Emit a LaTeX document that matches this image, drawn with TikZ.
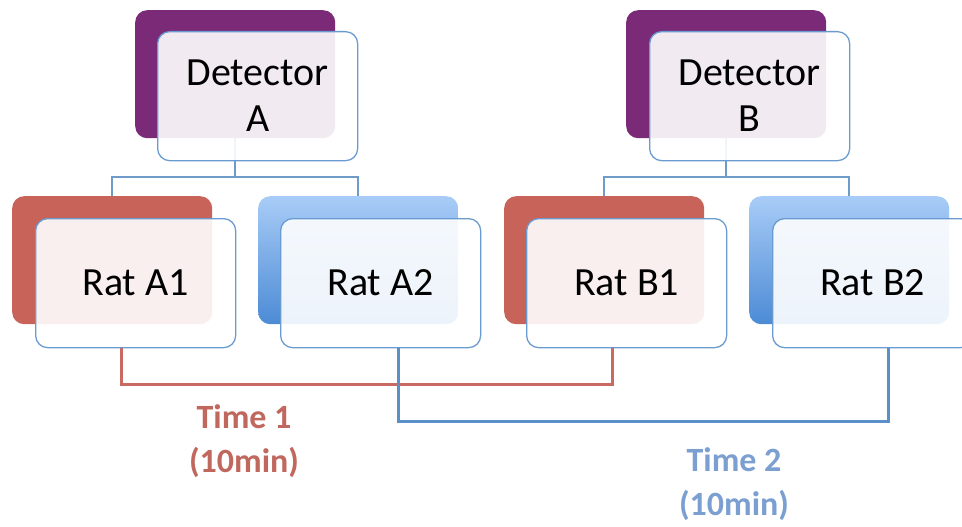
\documentclass[tikz,border=0pt]{standalone}
\usepackage{fontspec}
\setmainfont{Carlito}
\usetikzlibrary{calc}
\definecolor{purpleback}{HTML}{7B2A78}
\definecolor{redback}{HTML}{C8635A}
\definecolor{bluetop}{HTML}{A8CCF7}
\definecolor{bluebot}{HTML}{4C8BD5}
\definecolor{frontborder}{HTML}{6A9BD0}
\definecolor{treeline}{HTML}{6F9BCB}
\definecolor{redline}{HTML}{C96A62}
\definecolor{blueline}{HTML}{5A8FC8}
\definecolor{redtext}{HTML}{C0675E}
\definecolor{bluetext}{HTML}{7A9FD0}
\begin{document}
\begin{tikzpicture}[x=1pt,y=-1pt,
  backbox/.style={rectangle, rounded corners=12pt, minimum width=200pt, minimum height=128pt, inner sep=0pt, anchor=north west, draw=none},
  purplebox/.style={backbox, fill=purpleback},
  redbox/.style={backbox, fill=redback},
  bluebox/.style={backbox, top color=bluetop, bottom color=bluebot},
  frontbox/.style={rectangle, rounded corners=12pt, draw=frontborder, line width=1.3pt, fill=white, fill opacity=0.9, draw opacity=1, text opacity=1, minimum width=200pt, minimum height=129pt, inner sep=0pt, anchor=north west, align=center, font=\fontsize{40}{46}\selectfont},
  tree/.style={draw=treeline, line width=2pt},
  redbracket/.style={draw=redline, line width=2.5pt},
  bluebracket/.style={draw=blueline, line width=2.5pt},
  timelabel/.style={align=center, font=\bfseries\fontsize{34}{44}\selectfont}
]
\useasboundingbox (0,0) rectangle (962,527);
\clip (0,0) rectangle (962,527);

% back boxes
\node[purplebox] (dAb) at (135,10) {};
\node[purplebox] (dBb) at (626,10) {};
\node[redbox] (rA1b) at (12,196) {};
\node[bluebox] (rA2b) at (258,196) {};
\node[redbox] (rB1b) at (504,196) {};
\node[bluebox] (rB2b) at (749,196) {};

% tree connectors
\draw[tree] (dAb.south) -- ++(0,40);
\draw[tree] (rA1b.north) -- ++(0,-19) -| (rA2b.north);
\draw[tree] (dBb.south) -- ++(0,40);
\draw[tree] (rB1b.north) -- ++(0,-19) -| (rB2b.north);

% front boxes
\node[frontbox] (dAf) at (157,31) {Detector\\A};
\node[frontbox] (dBf) at (649,31) {Detector\\B};
\node[frontbox] (rA1f) at (35,218) {Rat A1};
\node[frontbox] (rA2f) at (280,218) {Rat A2};
\node[frontbox] (rB1f) at (526,218) {Rat B1};
\node[frontbox] (rB2f) at (772,218) {Rat B2};

% time brackets
\draw[redbracket] ([xshift=-14pt]rA1f.south) -- ++(0,36) -| ([xshift=-14pt]rB1f.south);
\draw[bluebracket] ([xshift=18pt]rA2f.south) -- ++(0,73) -| ([xshift=16pt]rB2f.south);

% labels
\node[timelabel, text=redtext] (t1) at (244,441) {Time 1\\(10min)};
\node[timelabel, text=bluetext] (t2) at (734,484) {Time 2\\(10min)};
\end{tikzpicture}
\end{document}
